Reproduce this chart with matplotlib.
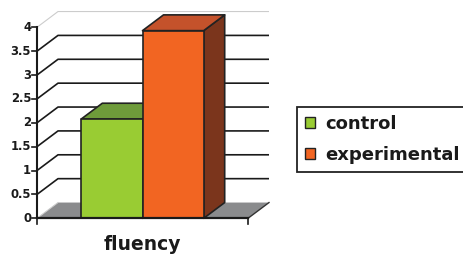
import matplotlib
matplotlib.use("Agg")
import matplotlib.pyplot as plt
from matplotlib.patches import Polygon, Patch

# ---- data ----
category = "fluency"
series = ["control", "experimental"]
values = [2.08, 3.93]
yticks = [0, 0.5, 1, 1.5, 2, 2.5, 3, 3.5, 4]
ytick_labels = ["0", "0.5", "1", "1.5", "2", "2.5", "3", "3.5", "4"]

front_colors = ["#99CC33", "#F26522"]
top_colors = ["#6E9B3A", "#C4522B"]
side_colors = ["#6B8F2E", "#7B351C"]

W, H = 463, 254
fig = plt.figure(figsize=(W / 100, H / 100), dpi=100)
# axes placement in pixels
x0, x1 = 37, 248
y0, y1 = 218.3, 27.3
ax = fig.add_axes([x0 / W, 1 - y0 / H, (x1 - x0) / W, (y0 - y1) / H])
ax.set_xlim(0, 1)
ax.set_ylim(0, 4)
ax.axis("off")

DX = 21 / (x1 - x0)
DY = 0.33
edge = "#222222"
rc = dict(clip_on=False)

# floor
ax.add_patch(Polygon([(0, 0), (1, 0), (1 + DX, DY), (DX, DY)], closed=True,
                     facecolor="#8A8B8D", edgecolor="none", zorder=1, **rc))
ax.plot([1, 1 + DX], [0, DY], color="#333333", lw=1.0, zorder=1.5, **rc)
ax.plot([0, DX], [0, DY], color="#cccccc", lw=0.8, zorder=1.5, **rc)

# gridlines (side wall + back wall)
for v in yticks[1:]:
    col = "#cccccc" if v == yticks[-1] else "#1a1a1a"
    lw = 0.8 if v == yticks[-1] else 1.2
    ax.plot([0, DX, 1 + DX], [v, v + DY, v + DY], color=col, lw=lw,
            zorder=2, solid_capstyle="butt", **rc)

# y axis
ax.plot([0, 0], [0, 4], color="#1a1a1a", lw=1.5, zorder=6, **rc)
tick_len = 5 / (x1 - x0)
for v, lab in zip(yticks, ytick_labels):
    ax.plot([-tick_len, 0], [v, v], color="#1a1a1a", lw=1.2, zorder=6, **rc)
    ax.text(-tick_len - 1 / (x1 - x0), v, lab, ha="right", va="center",
            fontsize=8.4, fontweight="bold", family="DejaVu Sans",
            color="#1a1a1a", **rc)

# x axis
ax.plot([0, 1], [0, 0], color="#1a1a1a", lw=1.6, zorder=6, **rc)
ytick_down = 6 / 47.75
for xv in [0, 1]:
    ax.plot([xv, xv], [0, -ytick_down], color="#1a1a1a", lw=1.2, zorder=6, **rc)

# bars
bw = 0.29
lefts = [0.5 - bw, 0.5]
for i, (l, v) in enumerate(zip(lefts, values)):
    r = l + bw
    z = 3 + i
    # side face
    ax.add_patch(Polygon([(r, 0), (r + DX, DY), (r + DX, v + DY), (r, v)], closed=True,
                         facecolor=side_colors[i], edgecolor=edge, lw=1.2,
                         joinstyle="round", zorder=z, **rc))
    # top face
    ax.add_patch(Polygon([(l, v), (r, v), (r + DX, v + DY), (l + DX, v + DY)], closed=True,
                         facecolor=top_colors[i], edgecolor=edge, lw=1.2,
                         joinstyle="round", zorder=z, **rc))
    # front face
    ax.add_patch(Polygon([(l, 0), (r, 0), (r, v), (l, v)], closed=True,
                         facecolor=front_colors[i], edgecolor=edge, lw=1.2,
                         joinstyle="round", zorder=z, **rc))

# category label
ax.text(0.5, -25.7 / (y0 - y1), category, transform=ax.get_xaxis_transform(),
        ha="center", va="center", fontsize=13.5, fontweight="bold",
        family="DejaVu Sans", color="#1a1a1a")

# legend
handles = [Patch(facecolor=c, edgecolor=edge, lw=1.0) for c in front_colors]
leg = fig.legend(handles, series, loc="center left",
                 bbox_to_anchor=(297 / W, 1 - 139.5 / H),
                 frameon=True, fancybox=False, edgecolor="#222222",
                 framealpha=1, borderpad=0.45, handlelength=0.55,
                 handleheight=0.55, handletextpad=0.55, labelspacing=0.75,
                 borderaxespad=0,
                 prop=dict(family="DejaVu Sans", weight="bold", size=13))
leg.get_frame().set_linewidth(1.3)
for t in leg.get_texts():
    t.set_color("#1a1a1a")

fig.savefig("out.png", dpi=100)
